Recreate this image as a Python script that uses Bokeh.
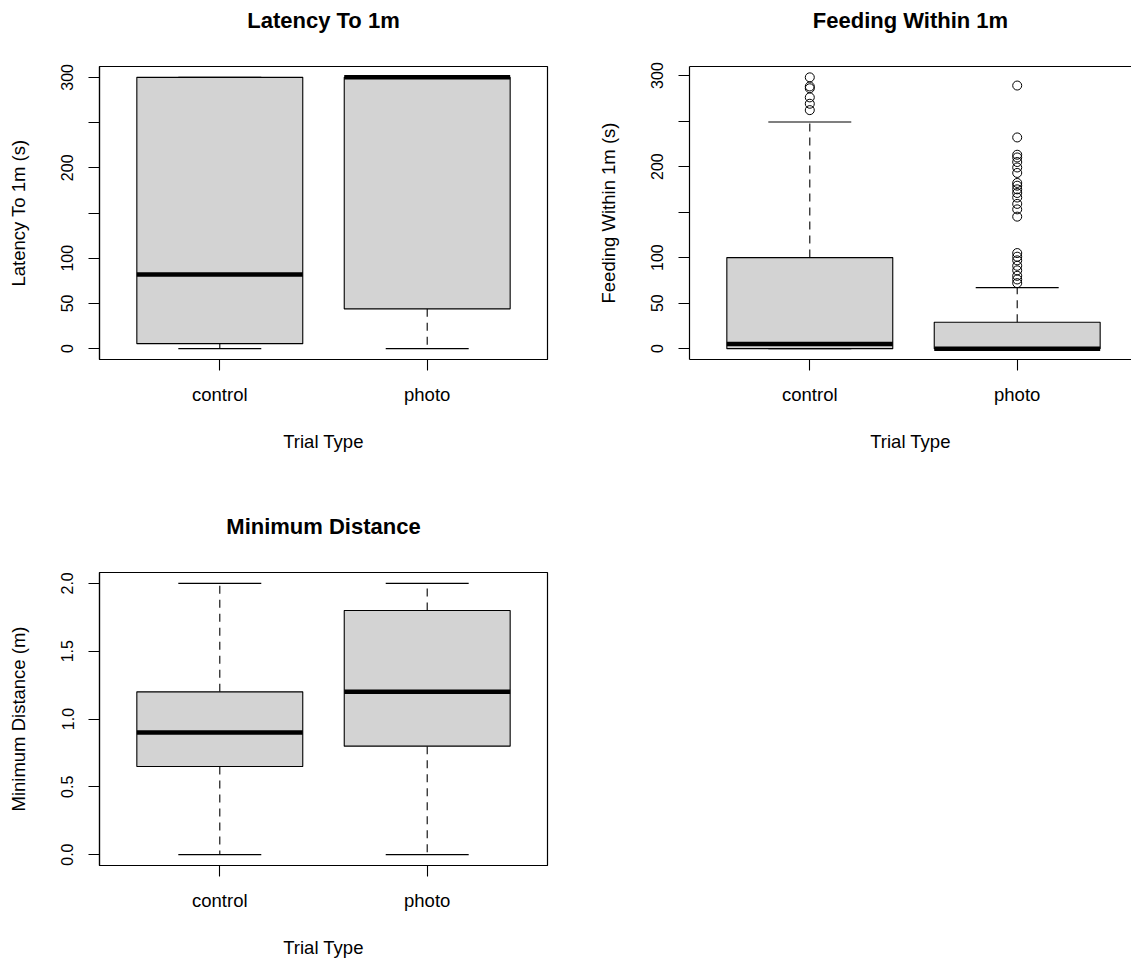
from bokeh.plotting import figure
from bokeh.layouts import row, column
from bokeh.models import Range1d, FixedTicker, LinearAxis
from bokeh.embed import file_html
from bokeh.resources import INLINE

FONT = "Liberation Sans"

trial_types = ["control", "photo"]
trial_pos = [1, 2]

# Latency To 1m (s): box-and-whisker summaries per trial type
latency_low = [0, 0]
latency_q1 = [5.5, 44]
latency_median = [82, 300]
latency_q3 = [300, 300]
latency_high = [300, 300]
latency_outliers = [[], []]
latency_ticks = [0, 50, 100, 150, 200, 250, 300]
latency_tick_labels = ["0", "50", "100", "", "200", "", "300"]

# Feeding Within 1m (s)
feeding_low = [0, 0]
feeding_q1 = [0, 0]
feeding_median = [5, 0]
feeding_q3 = [100, 29]
feeding_high = [249, 67]
feeding_outliers_control = [298, 288, 286, 276, 269, 262]
feeding_outliers_photo = [289, 232, 213, 210, 205, 199, 193, 182, 179, 175,
                          171, 166, 159, 153, 145, 105, 101, 97, 91, 86,
                          80, 76, 72]
feeding_ticks = [0, 50, 100, 150, 200, 250, 300]
feeding_tick_labels = ["0", "50", "100", "", "200", "", "300"]

# Minimum Distance (m)
distance_low = [0.0, 0.0]
distance_q1 = [0.65, 0.8]
distance_median = [0.9, 1.2]
distance_q3 = [1.2, 1.8]
distance_high = [2.0, 2.0]
distance_outliers = [[], []]
distance_ticks = [0.0, 0.5, 1.0, 1.5, 2.0]
distance_tick_labels = ["0.0", "0.5", "1.0", "1.5", "2.0"]

BOX_W = 0.8
STAPLE_W = 0.4
X_START, X_END = 0.42, 2.58          # category axis span incl. 4% padding
FULL_FRAME_W = 448                   # frame width that holds the full span
TITLE_STANDOFF = 34                  # gap between frame top and title, px


def padded_range(values):
    lo, hi = min(values), max(values)
    pad = 0.04 * (hi - lo)
    return Range1d(lo - pad, hi + pad)


def box_panel(title, ylab, low, q1, med, q3, high, outliers, ticks, tick_labels,
              width, height, left, right, top, bottom, full_box=True):
    frame_w = width - left - right
    x_end = X_START + frame_w * (X_END - X_START) / FULL_FRAME_W
    all_vals = list(low) + list(high) + [v for o in outliers for v in o]
    p = figure(width=width, height=height, output_backend="svg",
               toolbar_location=None, x_axis_type=None, y_axis_type=None,
               x_range=Range1d(X_START, x_end), y_range=padded_range(all_vals),
               min_border_left=left, min_border_right=right,
               min_border_top=top, min_border_bottom=bottom,
               background_fill_color="white", border_fill_color="white")
    p.grid.visible = False
    if full_box:
        p.outline_line_color = "black"
        p.outline_line_width = 1.2
    else:
        p.outline_line_color = None

    # dashed whiskers
    p.segment(x0=trial_pos, y0=q3, x1=trial_pos, y1=high, line_color="black",
              line_width=1.1, line_dash="8 6")
    p.segment(x0=trial_pos, y0=q1, x1=trial_pos, y1=low, line_color="black",
              line_width=1.1, line_dash="8 6")
    # staples
    xl = [x - STAPLE_W / 2 for x in trial_pos]
    xr = [x + STAPLE_W / 2 for x in trial_pos]
    p.segment(x0=xl, y0=high, x1=xr, y1=high, line_color="black", line_width=1.1)
    p.segment(x0=xl, y0=low, x1=xr, y1=low, line_color="black", line_width=1.1)
    # boxes
    p.vbar(x=trial_pos, width=BOX_W, bottom=q1, top=q3, fill_color="#D3D3D3",
           line_color="black", line_width=1.1)
    # medians
    bl = [x - BOX_W / 2 for x in trial_pos]
    br = [x + BOX_W / 2 for x in trial_pos]
    p.segment(x0=bl, y0=med, x1=br, y1=med, line_color="black", line_width=4.5)
    # outliers
    ox, oy = [], []
    for x, vals in zip(trial_pos, outliers):
        ox += [x] * len(vals)
        oy += list(vals)
    if ox:
        p.scatter(x=ox, y=oy, marker="circle", size=9, fill_color=None,
                  line_color="black", line_width=1)

    # x axis
    xa = LinearAxis(ticker=FixedTicker(ticks=trial_pos),
                    major_label_overrides={x: t for x, t in zip(trial_pos, trial_types)},
                    axis_label="Trial Type")
    # y axis
    ya = LinearAxis(ticker=FixedTicker(ticks=ticks),
                    major_label_overrides={t: s for t, s in zip(ticks, tick_labels)},
                    axis_label=ylab, major_label_orientation="vertical")
    for ax in (xa, ya):
        ax.axis_line_color = "black"
        ax.axis_line_width = 1.2
        ax.major_tick_line_color = "black"
        ax.major_tick_line_width = 1.1
        ax.major_tick_in = 0
        ax.major_tick_out = 11
        ax.minor_tick_line_color = None
        ax.axis_label_text_font = FONT
        ax.axis_label_text_font_style = "normal"
        ax.axis_label_text_font_size = "18.5px"
        ax.axis_label_text_color = "black"
        ax.major_label_text_font = FONT
        ax.major_label_text_color = "black"
    xa.major_label_text_font_size = "18.5px"
    xa.major_label_standoff = 13
    xa.axis_label_standoff = 23
    ya.major_label_text_font_size = "16px"
    ya.major_label_standoff = 15
    ya.axis_label_standoff = 30
    p.add_layout(xa, "below")
    p.add_layout(ya, "left")

    # tickless top axis carrying the bold panel title; where the outline is
    # off, its line also draws the top border of the plot
    ta = LinearAxis(ticker=FixedTicker(ticks=[]), major_label_standoff=0,
                    major_tick_out=0, major_tick_in=0,
                    axis_line_color=None if full_box else "black",
                    axis_line_width=1.2,
                    axis_label=title, axis_label_standoff=TITLE_STANDOFF,
                    axis_label_text_font=FONT, axis_label_text_font_style="bold",
                    axis_label_text_font_size="22px",
                    axis_label_text_color="black")
    p.add_layout(ta, "above")
    return p


p1 = box_panel("Latency To 1m", "Latency To 1m (s)",
               latency_low, latency_q1, latency_median, latency_q3, latency_high,
               latency_outliers, latency_ticks, latency_tick_labels,
               565, 505, 99, 18, 66, 146)
p2 = box_panel("Feeding Within 1m", "Feeding Within 1m (s)",
               feeding_low, feeding_q1, feeding_median, feeding_q3, feeding_high,
               [feeding_outliers_control, feeding_outliers_photo],
               feeding_ticks, feeding_tick_labels,
               566, 505, 124, 0, 66, 146, full_box=False)
p3 = box_panel("Minimum Distance", "Minimum Distance (m)",
               distance_low, distance_q1, distance_median, distance_q3, distance_high,
               distance_outliers, distance_ticks, distance_tick_labels,
               565, 457, 99, 18, 67, 97)

layout = column(row(p1, p2), row(p3))
open("out.html", "w").write(file_html(layout, INLINE))
